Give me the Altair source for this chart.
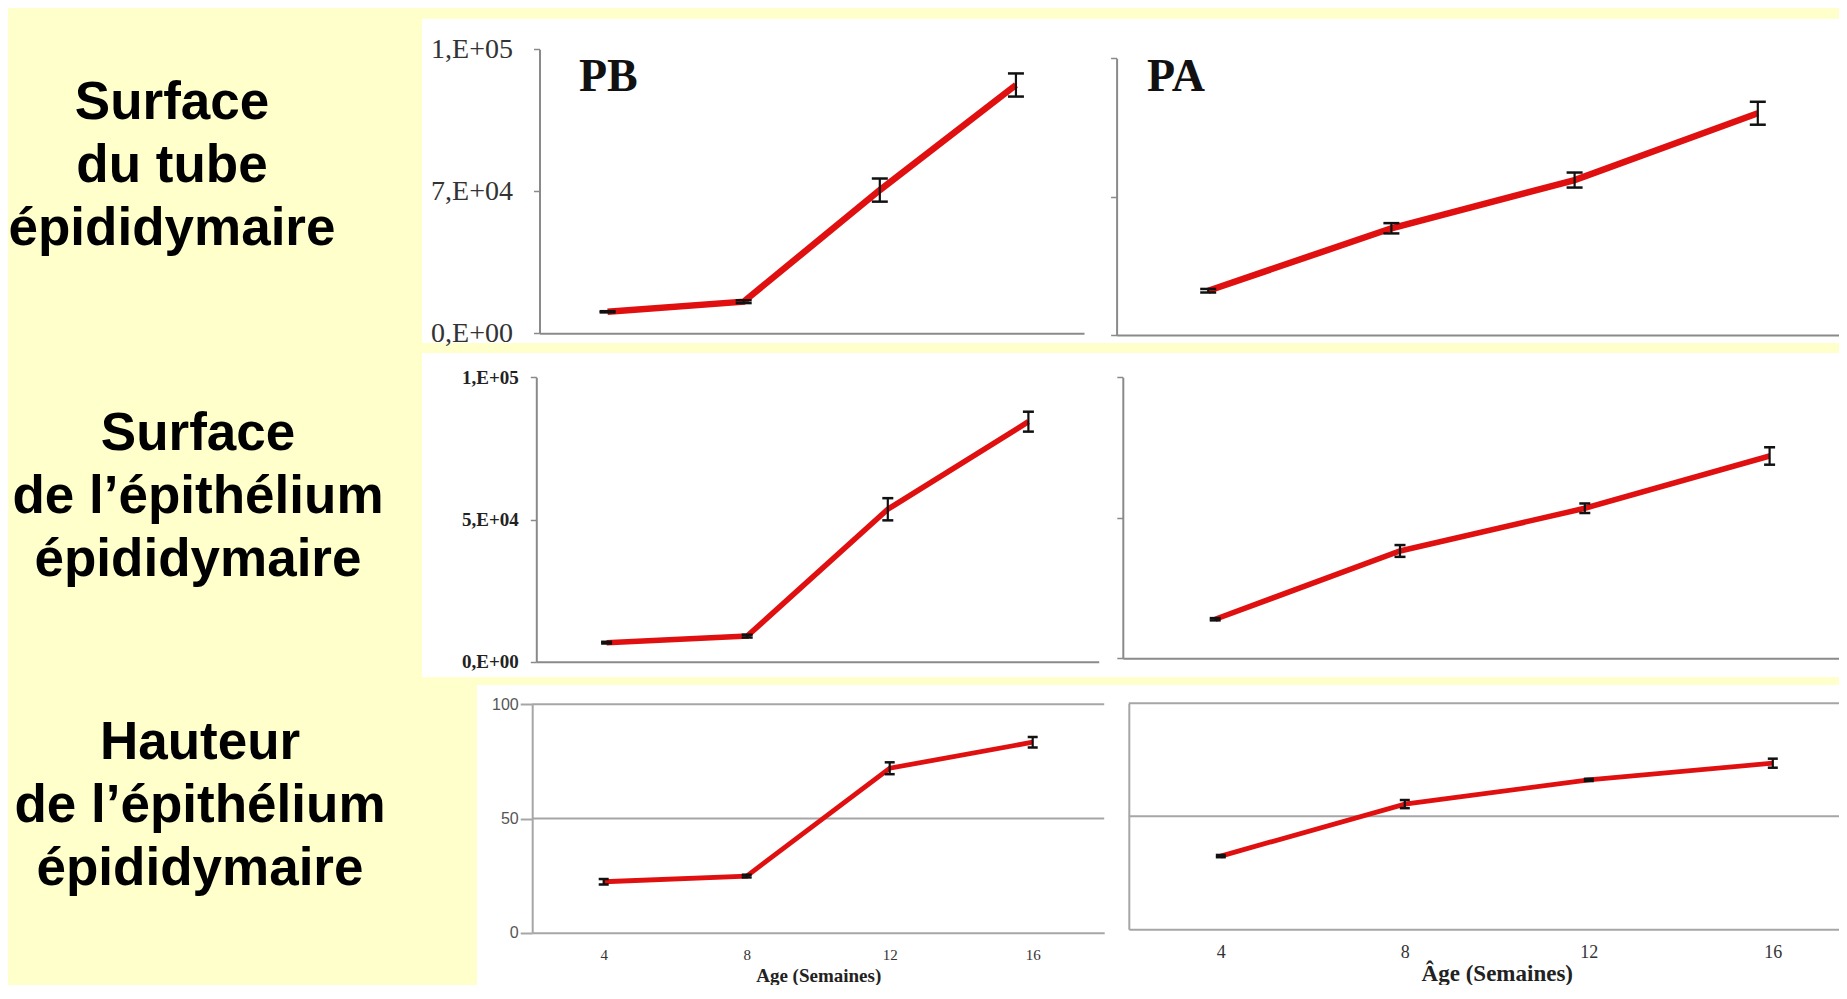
import altair as alt
import pandas as pd

# ---------------- data ----------------
ages = [4, 8, 12, 16]

row_labels = [
    ["Surface", "du tube", "épididymaire"],
    ["Surface", "de l’épithélium", "épididymaire"],
    ["Hauteur", "de l’épithélium", "épididymaire"],
]
group_names = ["PB", "PA"]
x_titles = ["Age (Semaines)", "Âge (Semaines)"]

tube_pb = [10600, 15600, 70600, 122400]
tube_pb_err = [300, 700, 5700, 5700]
tube_pa = [22400, 54000, 78400, 112200]
tube_pa_err = [900, 2600, 3800, 5800]

epi_pb = [6700, 9000, 53600, 84400]
epi_pb_err = [300, 500, 3900, 3500]
epi_pa = [13900, 38200, 53400, 72000]
epi_pa_err = [400, 2100, 1700, 3100]

haut_pb = [22.3, 24.8, 72.0, 83.4]
haut_pb_err = [1.2, 0.6, 2.6, 2.3]
haut_pa = [32.4, 55.4, 66.1, 73.5]
haut_pa_err = [0.5, 1.8, 0.5, 2.0]

ticks_tube = [0, 70000, 140000]
ticks_tube_labels = ["0,E+00", "7,E+04", "1,E+05"]
ticks_epi = [0, 50000, 100000]
ticks_epi_labels = ["0,E+00", "5,E+04", "1,E+05"]
ticks_haut = [0, 50, 100]
grid_haut = [50, 100]
x_domain = [2, 18]

# ---------------- layout / style ----------------
W, H = 1831, 977
BG = "#FFFFCC"
RED = "#E01010"
AX = "#8a8a8a"
ONE = pd.DataFrame({"k": [0]})


def label_expr(values, labels):
    expr = "''"
    for v, l in reversed(list(zip(values, labels))):
        expr = f"datum.value == {v} ? '{l}' : {expr}"
    return expr


def panel(vals, errs, xr, yr, ydom, xaxis, yaxis, lw, cap, grid=None, gridcolor="#a6a6a6"):
    df = pd.DataFrame({
        "age": ages,
        "v": vals,
        "lo": [v - e for v, e in zip(vals, errs)],
        "hi": [v + e for v, e in zip(vals, errs)],
    })
    xs = alt.Scale(domain=x_domain, range=xr, nice=False, zero=False)
    ys = alt.Scale(domain=ydom, range=yr, nice=False, zero=False)
    X = alt.X("age:Q", scale=xs, axis=xaxis)
    base = alt.Chart(df)
    layers = []
    if grid is not None:
        gdf = pd.DataFrame({"g": grid,
                            "x0": [x_domain[0]] * len(grid),
                            "x1": [x_domain[1]] * len(grid)})
        layers.append(alt.Chart(gdf).mark_rule(color=gridcolor, strokeWidth=2).encode(
            x=alt.X("x0:Q", scale=xs, axis=xaxis), x2="x1:Q",
            y=alt.Y("g:Q", scale=ys, axis=yaxis)))
    layers.append(base.mark_line(color=RED, strokeWidth=lw).encode(
        x=X, y=alt.Y("v:Q", scale=ys, axis=yaxis)))
    layers.append(base.mark_rule(color="#111", strokeWidth=2.2).encode(
        x=X, y=alt.Y("lo:Q", scale=ys, axis=yaxis), y2="hi:Q"))
    for f in ("lo", "hi"):
        layers.append(base.mark_tick(orient="horizontal", size=cap, thickness=2.5,
                                     color="#111", opacity=1).encode(
            x=X, y=alt.Y(f"{f}:Q", scale=ys, axis=yaxis)))
    return alt.layer(*layers)


def y_axis(xr, **kw):
    base = dict(orient="left", offset=-xr[0], title=None, grid=False, zindex=2,
                domainColor=AX, domainWidth=2, tickColor=AX, tickWidth=1.5,
                labelFlush=False)
    base.update(kw)
    return alt.Axis(**base)


def x_axis(yr, **kw):
    base = dict(orient="bottom", offset=yr[0] - H, title=None, grid=False, zindex=2,
                domainColor=AX, domainWidth=2, ticks=False, labels=False,
                labelFlush=False)
    base.update(kw)
    return alt.Axis(**base)


def white(x0, x1, y0, y1):
    return alt.Chart(ONE).mark_rect(color="white").encode(
        x=alt.value(x0), x2=alt.value(x1), y=alt.value(y0), y2=alt.value(y1))


def text_block(lines, x, y):
    return alt.Chart(ONE).mark_text(
        font="Liberation Sans", fontWeight="bold", fontSize=53, lineHeight=63,
        align="center", baseline="alphabetic", color="#000").encode(
        x=alt.value(x), y=alt.value(y), text=alt.value(lines))


def group_label(name, x, y):
    return alt.Chart(ONE).mark_text(
        font="Liberation Serif", fontWeight="bold", fontSize=46,
        align="left", baseline="alphabetic", color="#111").encode(
        x=alt.value(x), y=alt.value(y), text=alt.value(name))


# ---- row 1 : Surface du tube ----
r1b_x, r1b_y = [531.5, 1076.0], [325.3, 41.3]
r1a_x, r1a_y = [1108.6, 1841.4], [327.0, 50.3]
p1b = panel(tube_pb, tube_pb_err, r1b_x, r1b_y, [0, 140000],
            x_axis(r1b_y),
            y_axis(r1b_x, values=ticks_tube, labelExpr=label_expr(ticks_tube, ticks_tube_labels),
                   tickSize=6, labelFont="Liberation Serif", labelFontSize=28,
                   labelColor="#333", labelPadding=21),
            lw=6.5, cap=16)
p1a = panel(tube_pa, tube_pa_err, r1a_x, r1a_y, [0, 140000],
            x_axis(r1a_y),
            y_axis(r1a_x, values=ticks_tube, labels=False, tickSize=6),
            lw=6.5, cap=16)

# ---- row 2 : Surface de l'épithélium ----
r2b_x, r2b_y = [528.3, 1090.7], [653.7, 369.3]
r2a_x, r2a_y = [1114.8, 1854.0], [650.3, 369.3]
p2b = panel(epi_pb, epi_pb_err, r2b_x, r2b_y, [0, 100000],
            x_axis(r2b_y),
            y_axis(r2b_x, values=ticks_epi, labelExpr=label_expr(ticks_epi, ticks_epi_labels),
                   tickSize=6, labelFont="Liberation Serif", labelFontSize=19,
                   labelFontWeight="bold", labelColor="#222", labelPadding=12),
            lw=5.5, cap=11)
p2a = panel(epi_pa, epi_pa_err, r2a_x, r2a_y, [0, 100000],
            x_axis(r2a_y),
            y_axis(r2a_x, values=ticks_epi, labels=False, tickSize=6),
            lw=5.5, cap=11)

# ---- row 3 : Hauteur de l'épithélium ----
G3 = "#a6a6a6"
r3b_x, r3b_y = [524.2, 1096.2], [924.7, 696.3]
r3a_x, r3a_y = [1120.8, 1856.8], [921.3, 695.3]
p3b = panel(haut_pb, haut_pb_err, r3b_x, r3b_y, [0, 100],
            x_axis(r3b_y, domainColor=G3, labels=True, values=ages,
                   labelFont="Liberation Serif", labelFontSize=15, labelColor="#333",
                   labelPadding=15, title=x_titles[0], titleFont="Liberation Serif",
                   titleFontSize=19, titleFontWeight="bold", titleColor="#222",
                   titleY=48.5, titleBaseline="alphabetic"),
            y_axis(r3b_x, values=ticks_haut, domainColor=G3, tickColor=G3, tickWidth=2,
                   tickSize=12, labelFont="Liberation Sans", labelFontSize=16,
                   labelColor="#555", labelPadding=2),
            lw=4.8, cap=10, grid=grid_haut, gridcolor=G3)
p3a = panel(haut_pa, haut_pa_err, r3a_x, r3a_y, [0, 100],
            x_axis(r3a_y, domainColor=G3, labels=True, values=ages,
                   labelFont="Liberation Serif", labelFontSize=18, labelColor="#333",
                   labelPadding=14, title=x_titles[1], titleFont="Liberation Serif",
                   titleFontSize=23, titleFontWeight="bold", titleColor="#222",
                   titleY=51.5, titleBaseline="alphabetic"),
            y_axis(r3a_x, values=ticks_haut, domainColor=G3, ticks=False, labels=False),
            lw=4.8, cap=10, grid=grid_haut, gridcolor=G3)

chart = alt.layer(
    white(414, W, 11, 335),
    white(414, W, 345, 669),
    white(469, W, 677, H),
    text_block(row_labels[0], 164, 111),
    text_block(row_labels[1], 190, 442),
    text_block(row_labels[2], 192, 751),
    p1b, p1a, p2b, p2a, p3b, p3a,
    group_label(group_names[0], 571, 83),
    group_label(group_names[1], 1139, 83),
).resolve_scale(
    x="independent", y="independent"
).properties(
    width=W, height=H, padding=0,
    autosize=alt.AutoSizeParams(type="none"),
    background=BG,
).configure_view(stroke=None)

chart.save("out.html", embed_options={"renderer": "svg", "actions": False})
